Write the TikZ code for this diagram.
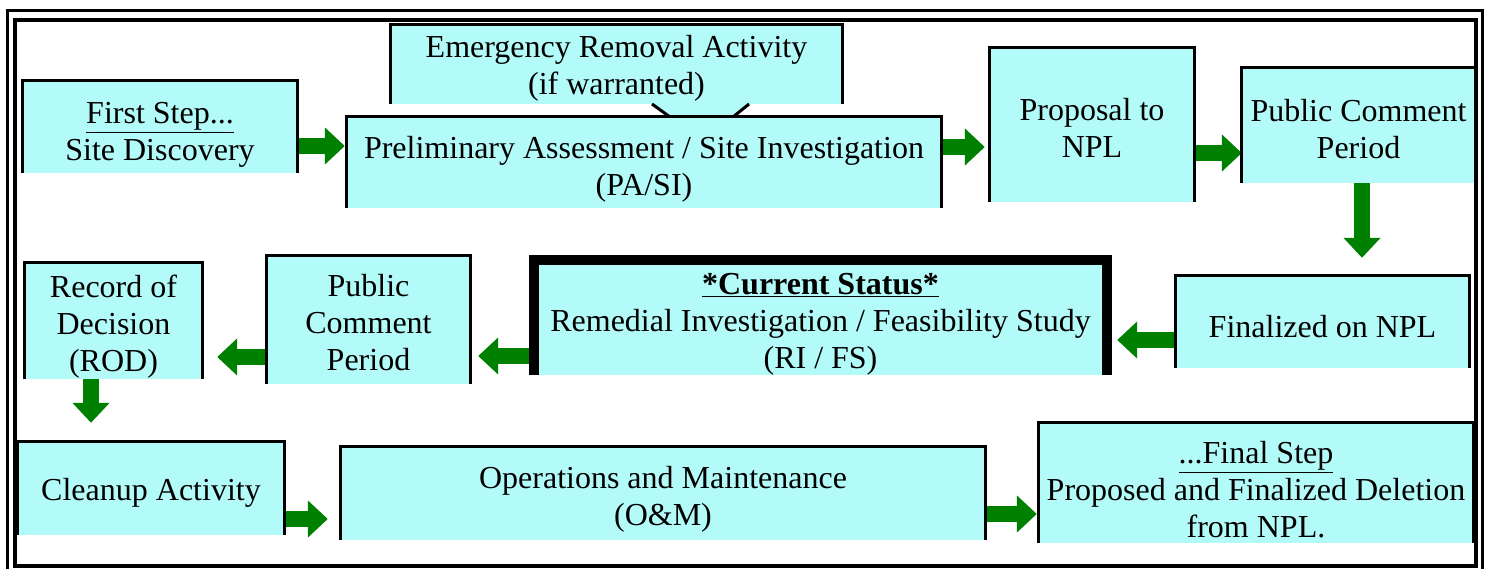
\documentclass[tikz,border=0pt]{standalone}
\usepackage{fontspec}
\setmainfont{Liberation Serif}
\usepackage{tikz}
\usetikzlibrary{arrows.meta}
\definecolor{boxcyan}{HTML}{B3FBF9}
\definecolor{arrowgreen}{HTML}{008000}
\tikzstyle{stage}=[fill=boxcyan,inner sep=0pt]
\tikzset{caption/.style={align=center,inner sep=0pt,font=\fontsize{32}{37}\selectfont,yshift=#1}}

\begin{document}
\begin{tikzpicture}[x=1pt,y=-1pt]

\tikzstyle{arrow}=[draw=arrowgreen,line width=16pt,-{Triangle[length=20pt,width=36pt]}]
\tikzstyle{rim}=[line width=3pt]

\useasboundingbox (0,0) rectangle (1491,569);
\clip (0,0) rectangle (1491,569);

% top row
\node (disc) [stage, minimum width=274pt, minimum height=92pt,
      label={[caption=-8pt]center:{\underline{First Step...}\\ Site Discovery}}] at (160,127) {};
\node (emerg) [stage, minimum width=451pt, minimum height=79pt,
      label={[caption=-4pt]center:{Emergency Removal Activity\\ (if warranted)}}] at (616.5,64.5) {};
\fill [boxcyan] (652,103) -- (670,118) -- (733,118) -- (749,103) -- cycle;
\draw [rim] (652,104) -- (670,117);
\draw [rim] (749,104) -- (733,117);
\node (pa) [stage, minimum width=594pt, minimum height=91pt,
      label={[caption=-7pt]center:{Preliminary Assessment / Site Investigation\\ (PA/SI)}}] at (644,162.5) {};
\node (prop) [stage, minimum width=204pt, minimum height=154pt,
      label={[caption=-3pt]center:{Proposal to\\ NPL}}] at (1092,125) {};
\node (pub1) [stage, minimum width=233pt, minimum height=115pt,
      label={[caption=-4pt]center:{Public Comment\\ Period}}] at (1358.5,125.5) {};

% middle row
\node (fin) [stage, minimum width=293pt, minimum height=92pt,
      label={[caption=-5pt]center:{Finalized on NPL}}] at (1322.5,322) {};
\node (ri) [stage, minimum width=573pt, minimum height=115pt,
      label={[caption=-7pt]center:{\textbf{\underline{*Current Status*}}\\ Remedial Investigation / Feasibility Study\\ (RI / FS)}}] at (820.5,317.5) {};
\node (pub2) [stage, minimum width=203pt, minimum height=128pt,
      label={[caption=-3pt]center:{Public\\ Comment\\ Period}}] at (368.5,320) {};
\node (rod) [stage, minimum width=177pt, minimum height=116pt,
      label={[caption=-6pt]center:{Record of\\ Decision\\ (ROD)}}] at (113.5,321) {};

% bottom row
\node (clean) [stage, minimum width=266pt, minimum height=93pt,
      label={[caption=-4pt]center:{Cleanup Activity}}] at (151,488.5) {};
\node (om) [stage, minimum width=644pt, minimum height=93pt,
      label={[caption=-6pt]center:{Operations and Maintenance\\ (O\&M)}}] at (663,493.5) {};
\node (final) [stage, minimum width=434pt, minimum height=120pt,
      label={[caption=-7pt]center:{\underline{...Final Step}\\ Proposed and Finalized Deletion\\ from NPL.}}] at (1256,483) {};

\draw [arrow, shorten >=2pt] ([yshift=-19pt]disc.east) -- ([yshift=-19pt]disc.east -| pa.west);
\draw [arrow, shorten >=5pt] ([yshift=15.5pt]pa.east) -- ([yshift=15.5pt]pa.east -| prop.west);
\draw [arrow] ([yshift=-28pt]prop.east) -- ([yshift=-28pt]prop.east -| pub1.west);
\draw [arrow, shorten >=18pt] ([xshift=3.5pt]pub1.south) -- ([xshift=3.5pt]pub1.south |- fin.north);
\draw [arrow, shorten >=10pt] ([yshift=-18pt]fin.west) -- ([yshift=-18pt]fin.west -| ri.east);
\draw [arrow, shorten >=8pt] ([yshift=-38.5pt]ri.west) -- ([yshift=-38.5pt]ri.west -| pub2.east);
\draw [arrow, shorten >=15pt] ([yshift=-37pt]pub2.west) -- ([yshift=-37pt]pub2.west -| rod.east);
\draw [arrow, shorten >=19pt] ([xshift=-22.5pt]rod.south) -- ([xshift=-22.5pt]rod.south |- clean.north);
\draw [arrow, shorten >=13pt] ([yshift=-30.5pt]clean.east) -- ([yshift=-30.5pt]clean.east -| om.west);
\draw [arrow, shorten >=2pt] ([yshift=-20.5pt]om.east) -- ([yshift=-20.5pt]om.east -| final.west);

% open-bottomed outlines
\foreach \n in {disc,emerg,pa,prop,pub1,fin,pub2,rod,clean,om,final}
  \draw [rim] (\n.south west) -- (\n.north west) -- (\n.north east) -- (\n.south east);
\draw [line width=10pt] (ri.south west) -- (ri.north west) -- (ri.north east) -- (ri.south east);

% double frame
\draw [line width=3pt] (7,11) rectangle (1482,580);
\draw [line width=4pt] (15,20) rectangle (1476,566);

\end{tikzpicture}
\end{document}
